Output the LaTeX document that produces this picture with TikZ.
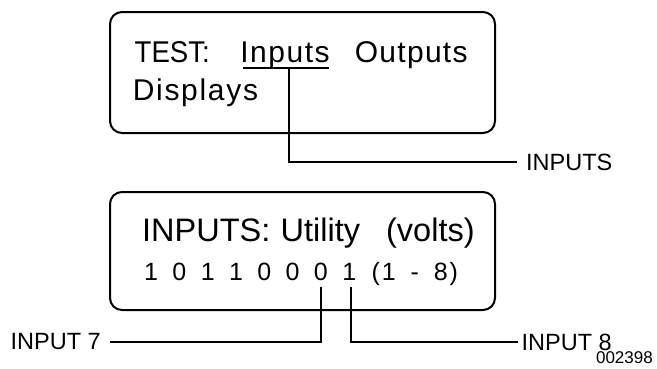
\documentclass[tikz,border=0pt]{standalone}
\usepackage{fontspec}
\usepackage{graphicx}
\setmainfont{Liberation Sans}
\ExplSyntaxOn
\NewDocumentCommand\lcdcells{mm}{ \str_map_inline:nn {#2} { \makebox[#1][c]{##1} } }
\NewDocumentCommand\lcdtrack{mm}{ \str_map_inline:nn {#2} { ##1 \kern #1 } }
\ExplSyntaxOff
\tikzset{
  screen/.style={draw=black, line width=2pt, rounded corners=12pt},
  lcdtext/.style={anchor=base west, inner sep=0pt},
  lead/.style={draw=black, line width=1.1pt},
  label/.style={inner ysep=0pt, font=\fontsize{23.5}{28}\selectfont},
  tag/.style={anchor=base east, inner sep=0pt, font=\fontsize{17}{20}\selectfont}
}
\begin{document}
\begin{tikzpicture}[x=1pt, y=-1pt]
\useasboundingbox (0,0) rectangle (657,368);
% top screen
\draw[screen] (110,12) rectangle (495,133);
\node[lcdtext, font=\fontsize{30}{36}\selectfont] (t1) at (134.5,62)
  {\makebox[105.7pt][l]{\scalebox{0.92}[1]{TEST:} }\makebox[114.4pt][l]{\lcdtrack{1.5pt}{Inputs} }\lcdtrack{1.3pt}{Outputs}};
\node[lcdtext, font=\fontsize{30}{36}\selectfont] (t2) at (132.6,100) {\lcdtrack{1.7pt}{Displays}};
\draw[line width=1.3pt] (243,68) -- (329,68);
\coordinate (u) at (289,68);
\node[label, anchor=west, inner xsep=9pt] (inputs) at (517,162) {INPUTS};
\draw[lead] (u) |- (inputs.west);
% bottom screen
\draw[screen] (110,192) rectangle (495,310);
\node[lcdtext, font=\fontsize{32.5}{38}\selectfont] (b1) at (142,241) {\makebox[138.5pt][l]{INPUTS: }\makebox[105.5pt][l]{Utility }(volts)};
\node[lcdtext, font=\fontsize{25}{30}\selectfont] (b2) at (143.9,280) {\lcdcells{14.15pt}{1 0 1 1 0 0 0 1}\lcdcells{13pt}{ (1 - 8)}};
\coordinate (d7) at (321,287);
\coordinate (d8) at (351,287);
\node[label, anchor=east, inner xsep=9pt] (in7) at (110,342) {INPUT 7};
\node[label, anchor=west, inner xsep=3.5pt] (in8) at (518,342) {INPUT 8};
\draw[lead] (d7) |- (in7.east);
\draw[lead] (d8) |- (in8.west);
\node[tag] (code) at (653,363.5) {002398};
\end{tikzpicture}
\end{document}
